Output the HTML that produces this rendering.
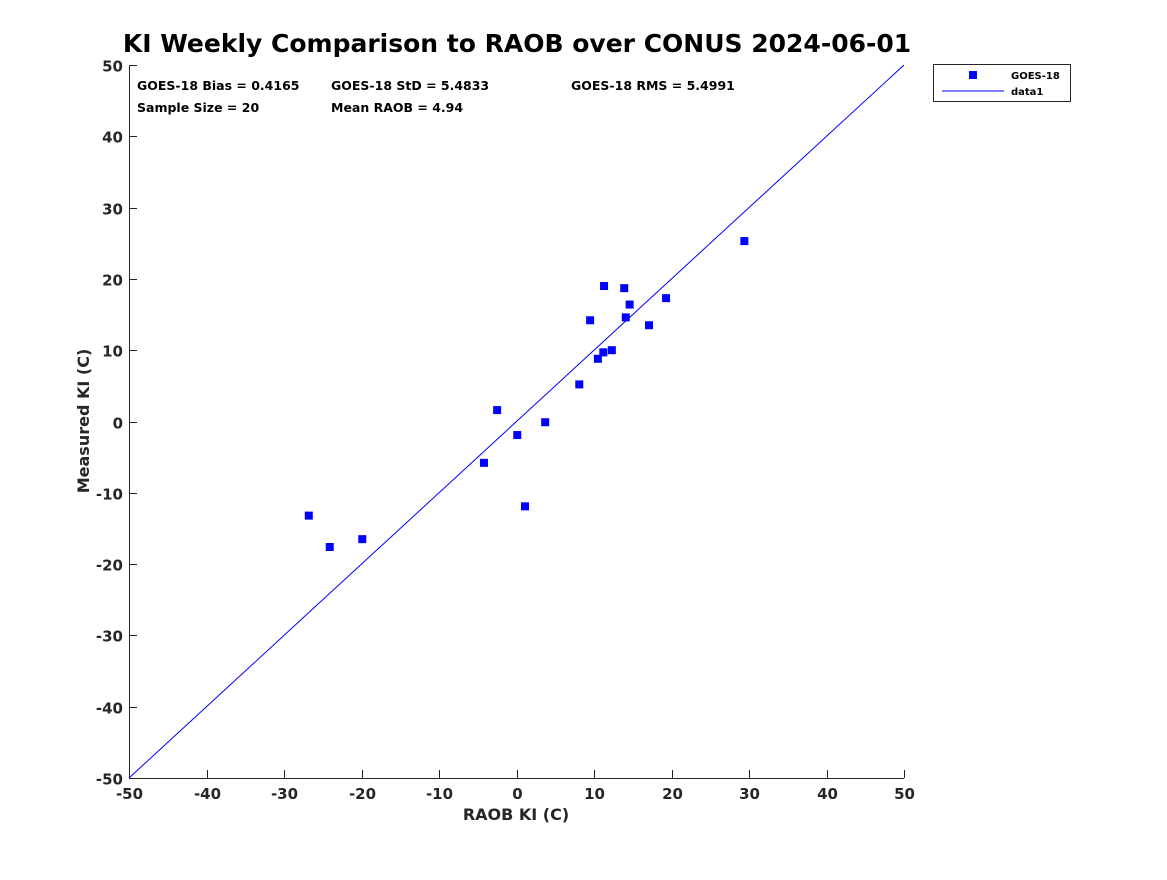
<!DOCTYPE html>
<html><head><meta charset="utf-8"><style>
html,body{margin:0;padding:0;background:#fff;}
svg text{font-family:"DejaVu Sans","Liberation Sans",sans-serif;fill:#262626;font-weight:bold;}
</style></head><body>
<svg id="chart" width="1167" height="875" xmlns="http://www.w3.org/2000/svg">
<rect width="1167" height="875" fill="#fff"/>
<text x="517" y="52" text-anchor="middle" font-size="25" style="fill:#000">KI Weekly Comparison to RAOB over CONUS 2024-06-01</text>
<g id="axes"></g>
<g id="marks"></g>
<g font-size="12.5">
<text x="137" y="90" style="fill:#000">GOES-18 Bias = 0.4165</text>
<text x="331" y="90" style="fill:#000">GOES-18 StD = 5.4833</text>
<text x="571" y="90" style="fill:#000">GOES-18 RMS = 5.4991</text>
<text x="137" y="112" style="fill:#000">Sample Size = 20</text>
<text x="331" y="112" style="fill:#000">Mean RAOB = 4.94</text>
</g>
<g>
<rect x="933.5" y="64.5" width="137" height="37" fill="#fff" stroke="#262626" stroke-width="1"/>
<rect x="969" y="71" width="8" height="8" fill="#0000ff"/>
<text x="1011" y="79" font-size="10" style="fill:#000">GOES-18</text>
<line x1="942" y1="91" x2="1004" y2="91" stroke="#0000ff" stroke-width="1"/>
<text x="1011" y="95" font-size="10" style="fill:#000">data1</text>
</g>
<text x="516" y="820" text-anchor="middle" font-size="16">RAOB KI (C)</text>
<text transform="translate(89,421) rotate(-90)" text-anchor="middle" font-size="16">Measured KI (C)</text>
</svg>
<script>
const raobValues=[-26.8,-24.1,-19.9,-4.2,-2.5,0.1,1.1,3.7,8.1,9.5,10.5,11.2,11.3,12.3,13.9,14.1,14.6,17.1,19.3,29.4];
const measuredValues=[-13.2,-17.6,-16.5,-5.8,1.6,-1.9,-11.9,-0.1,5.2,14.2,8.8,9.7,19.0,10.0,18.7,14.6,16.4,13.5,17.3,25.3];
const xTicks=[-50,-40,-30,-20,-10,0,10,20,30,40,50];
const yTicks=[-50,-40,-30,-20,-10,0,10,20,30,40,50];
const L=129,R=904,T=65,B=778;
const sx=v=>L+(v+50)/100*(R-L);
const sy=v=>B-(v+50)/100*(B-T);
const NS="http://www.w3.org/2000/svg";
const axes=document.getElementById('axes'),marks=document.getElementById('marks');
function mk(tag,attrs,parent){const e=document.createElementNS(NS,tag);for(const k in attrs)e.setAttribute(k,attrs[k]);parent.appendChild(e);return e;}
let ax=mk('line',{x1:L,y1:B+0.5,x2:R,y2:B+0.5,stroke:'#262626'},axes);


let ay=mk('line',{x1:L+0.5,y1:T,x2:L+0.5,y2:B,stroke:'#262626'},axes);


xTicks.forEach(t=>{const x=Math.round(sx(t))+0.5;
 mk('line',{x1:x,y1:B,x2:x,y2:B-8,stroke:'#262626'},axes);
 const tx=mk('text',{x:x,y:B+21,'text-anchor':'middle','font-size':15},axes);tx.textContent=t;
 
 });
yTicks.forEach(t=>{const y=Math.round(sy(t))+0.5;
 mk('line',{x1:L,y1:y,x2:L+8,y2:y,stroke:'#262626'},axes);
 const tx=mk('text',{x:L-6,y:y+6,'text-anchor':'end','font-size':15},axes);tx.textContent=t;
 
 });
const ref=mk('line',{x1:sx(-50),y1:sy(-50),x2:sx(50),y2:sy(50),stroke:'#0000ff','stroke-width':1},marks);


raobValues.forEach((v,i)=>{const p=mk('rect',{x:sx(v)-4,y:sy(measuredValues[i])-4,width:8,height:8,fill:'#0000ff'},marks);
 
 });
</script>
</body></html>
